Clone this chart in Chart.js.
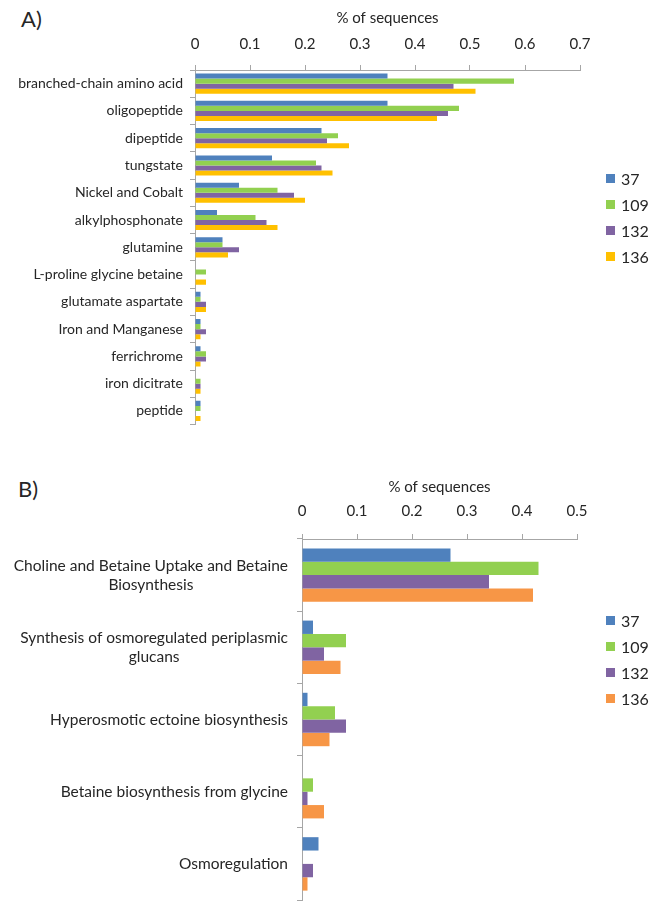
<!DOCTYPE html>
<html>
<head>
<meta charset="utf-8">
<script src="https://cdn.jsdelivr.net/npm/chart.js@4.4.0/dist/chart.umd.min.js"></script>
<style>
  body { margin: 0; background: #fff; font-family: Lato, sans-serif; color: #262626; }
  #wrap { position: relative; width: 650px; height: 901px; overflow: hidden; }
  canvas { position: absolute; left: 0; }
  .tag { position: absolute; font-size: 22px; }
  .legend { position: absolute; left: 606px; font-size: 16px; }
  .legend div { height: 26px; display: flex; align-items: center; }
  .legend span { display: inline-block; width: 9px; height: 9px; margin-right: 6px; }
</style>
</head>
<body>
<div id="wrap">
  <div class="tag" style="left:21px; top:5px;">A)</div>
  <canvas id="chartA" style="top:0px"></canvas>
  <div class="legend" id="legendA" style="top:165px"></div>

  <div class="tag" style="left:18px; top:475px;">B)</div>
  <canvas id="chartB" style="top:460px"></canvas>
  <div class="legend" id="legendB" style="top:607px"></div>
</div>
<script>
// series (sample ids)
const seriesNames = ['37', '109', '132', '136'];
const colorsA = ['#4F81BD', '#92D050', '#8064A2', '#FFC000'];
const colorsB = ['#4F81BD', '#92D050', '#8064A2', '#F79646'];

// A) transporters
const transporters = ['branched-chain amino acid', 'oligopeptide', 'dipeptide', 'tungstate',
  'Nickel and Cobalt', 'alkylphosphonate', 'glutamine', 'L-proline glycine betaine',
  'glutamate aspartate', 'Iron and Manganese', 'ferrichrome', 'iron dicitrate', 'peptide'];
const a37  = [0.35, 0.35, 0.23, 0.14, 0.08, 0.04, 0.05, 0,    0.01, 0.01, 0.01, 0,    0.01];
const a109 = [0.58, 0.48, 0.26, 0.22, 0.15, 0.11, 0.05, 0.02, 0.01, 0.01, 0.02, 0.01, 0.01];
const a132 = [0.47, 0.46, 0.24, 0.23, 0.18, 0.13, 0.08, 0,    0.02, 0.02, 0.02, 0.01, 0];
const a136 = [0.51, 0.44, 0.28, 0.25, 0.20, 0.15, 0.06, 0.02, 0.02, 0.01, 0.01, 0.01, 0.01];

// B) osmoregulation
const osmo = [['Choline and Betaine Uptake and Betaine', 'Biosynthesis'],
  ['Synthesis of osmoregulated periplasmic', 'glucans'],
  'Hyperosmotic ectoine biosynthesis', 'Betaine biosynthesis from glycine', 'Osmoregulation'];
const b37  = [0.27, 0.02, 0.01, 0,    0.03];
const b109 = [0.43, 0.08, 0.06, 0.02, 0];
const b132 = [0.34, 0.04, 0.08, 0.01, 0.02];
const b136 = [0.42, 0.07, 0.05, 0.04, 0.01];

const axisTitle = '% of sequences';
const textColor = '#262626';
const lineColor = '#A6A6A6';

function setupCanvas(id, h) {
  const c = document.getElementById(id);
  c.width = 650; c.height = h;
  c.style.width = '650px'; c.style.height = h + 'px';
  return c.getContext('2d');
}

function makeLegend(id, colors) {
  const el = document.getElementById(id);
  seriesNames.forEach((n, i) => {
    el.innerHTML += '<div><span style="background:' + colors[i] + '"></span>' + n + '</div>';
  });
}

// draws wrapped category labels: lines centred on each other, block right-aligned to axis
const wrappedLabels = {
  id: 'wrappedLabels',
  afterDraw(chart) {
    if (!chart.options.plugins.wrappedLabels) return;
    const ys = chart.scales.y, ctx = chart.ctx;
    ctx.save();
    ctx.font = '15.5px Lato';
    ctx.fillStyle = textColor;
    ctx.textAlign = 'center';
    ctx.textBaseline = 'middle';
    chart.data.labels.forEach((lab, i) => {
      const lines = [].concat(lab);
      const w = Math.max(...lines.map(l => ctx.measureText(l).width));
      const cx = ys.right - 14 - w / 2;
      const cy = ys.getPixelForTick(i);
      lines.forEach((l, k) => ctx.fillText(l, cx, cy + (k - (lines.length - 1) / 2) * 19));
    });
    ctx.restore();
  }
};

function barChart(ctx, labels, data, colors, cfg) {
  return new Chart(ctx, {
    type: 'bar',
    plugins: [wrappedLabels],
    data: {
      labels: labels,
      datasets: data.map((d, i) => ({
        label: seriesNames[i],
        data: d,
        backgroundColor: colors[i],
        borderWidth: 0,
        categoryPercentage: 0.74,
        barPercentage: 1
      }))
    },
    options: {
      indexAxis: 'y',
      responsive: false,
      animation: false,
      layout: { padding: { left: 0, right: cfg.padRight, top: 0, bottom: cfg.padBottom } },
      plugins: { legend: { display: false }, tooltip: { enabled: false }, wrappedLabels: cfg.wrapped },
      scales: {
        x: {
          position: 'top',
          min: 0, max: cfg.max,
          ticks: { stepSize: 0.1, color: textColor, font: { family: 'Lato', size: 15 }, padding: cfg.tickPad,
            callback: v => String(+v.toFixed(1)) },
          grid: { drawOnChartArea: false, tickLength: 5, color: lineColor },
          border: { color: lineColor },
          title: { display: true, text: axisTitle, color: textColor, font: { family: 'Lato', size: 15 },
            padding: { top: cfg.titlePad, bottom: 0 } },
          afterFit: s => { s.height = cfg.axisH; }
        },
        y: {
          ticks: { display: !cfg.wrapped, color: textColor, font: { family: 'Lato', size: 14 }, padding: 7 },
          grid: { offset: true, drawOnChartArea: false, tickLength: 5, color: lineColor },
          border: { color: lineColor },
          afterFit: s => { s.width = cfg.axisLeft; }
        }
      }
    }
  });
}

barChart(setupCanvas('chartA', 440), transporters, [a37, a109, a132, a136], colorsA,
  { max: 0.7, padRight: 70, padBottom: 12, axisH: 70, axisLeft: 195, tickPad: 12, titlePad: 9, wrapped: false });
barChart(setupCanvas('chartB', 441), osmo, [b37, b109, b132, b136], colorsB,
  { max: 0.5, padRight: 73, padBottom: 1, axisH: 79, axisLeft: 302, tickPad: 14, titlePad: 18, wrapped: true });

makeLegend('legendA', colorsA);
makeLegend('legendB', colorsB);
</script>
</body>
</html>
